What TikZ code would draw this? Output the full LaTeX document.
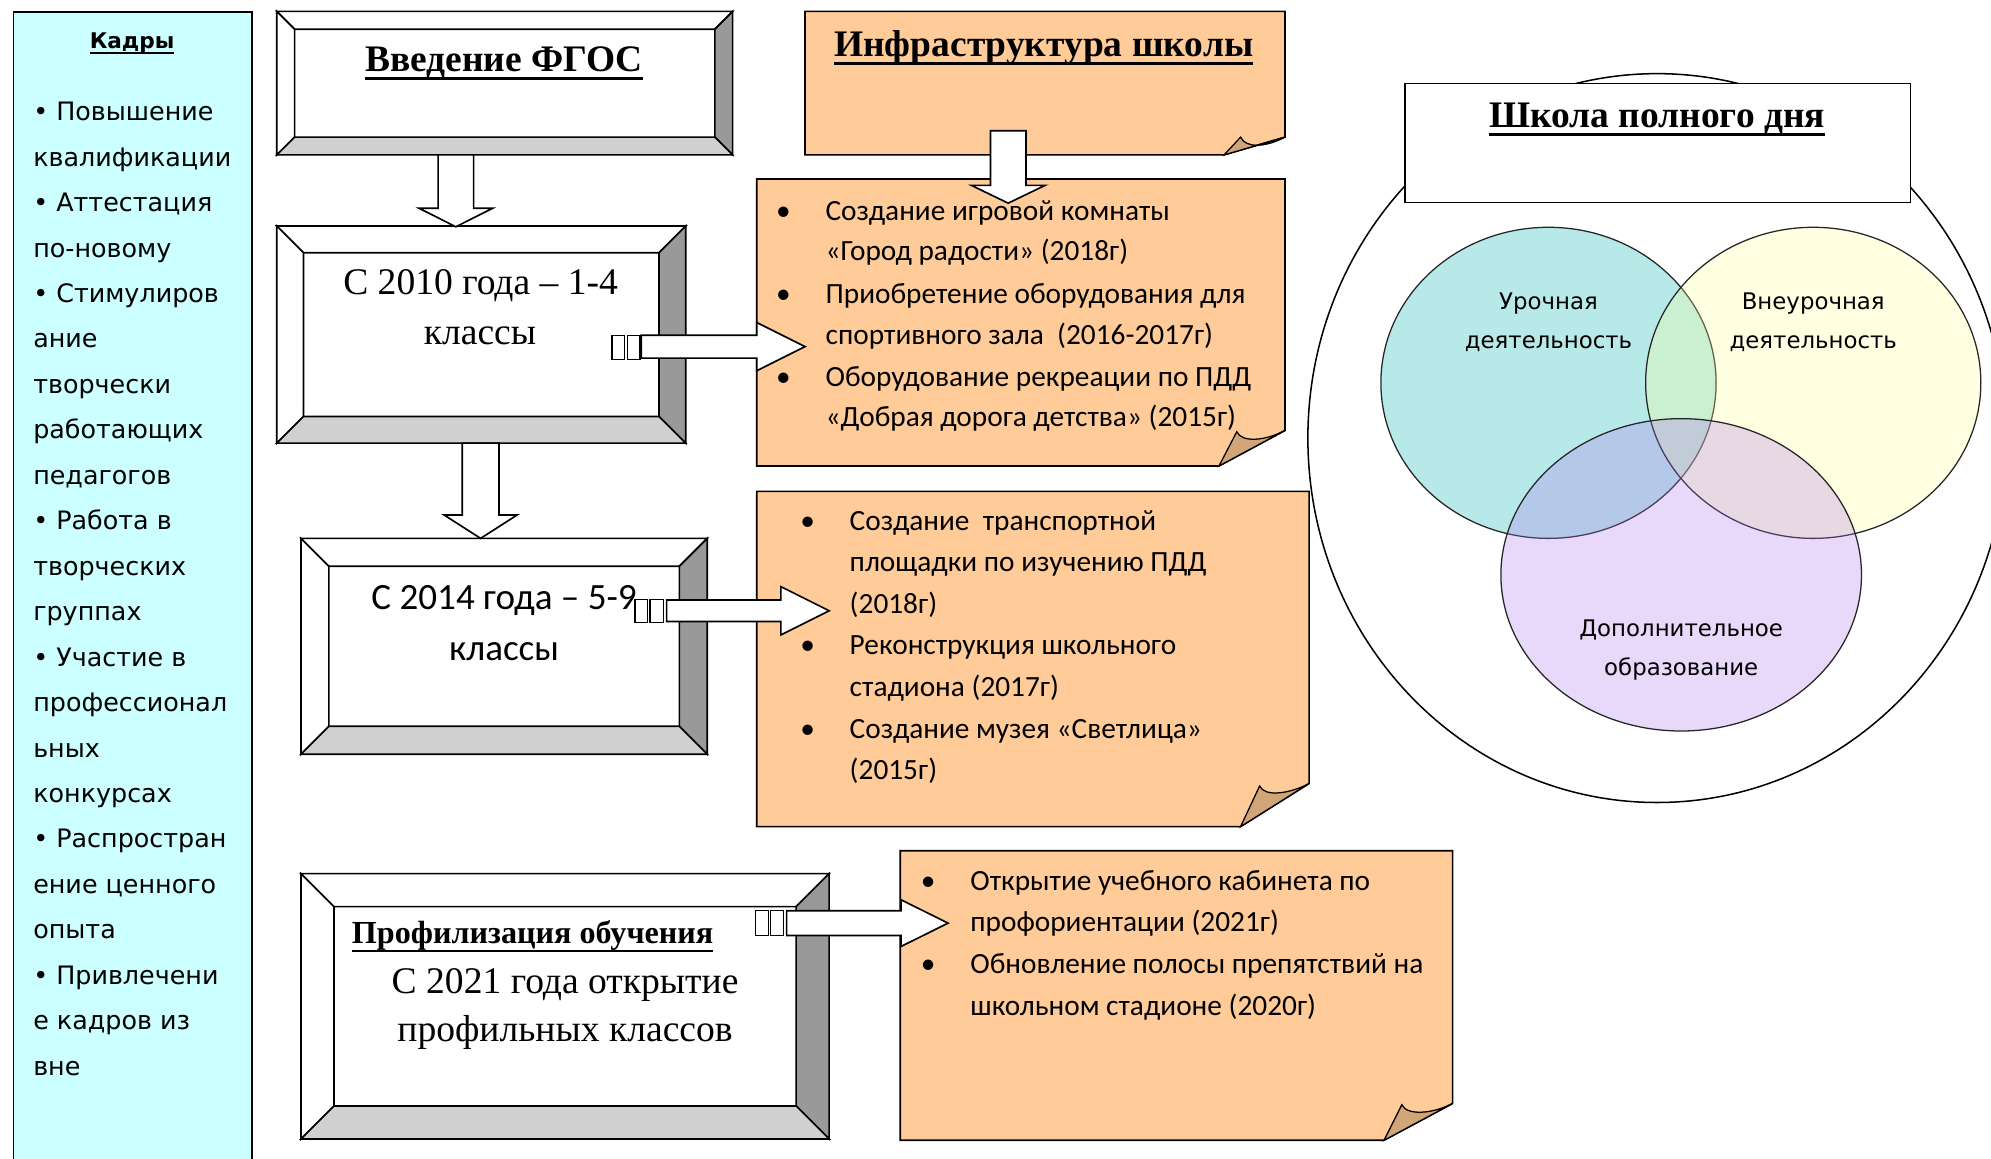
\documentclass[tikz,border=0pt]{standalone}
\usepackage{fontspec}
\setmainfont{Liberation Serif}
\newfontfamily\calfont{Carlito}
\newfontfamily\verfont{DejaVu Sans}
\usetikzlibrary{calc}
\definecolor{kadrycol}{RGB}{204,255,255}
\definecolor{notecol}{RGB}{255,204,153}
\definecolor{flapcol}{RGB}{210,165,120}
\definecolor{bevdark}{RGB}{153,153,153}
\definecolor{bevlight}{RGB}{208,208,208}
\definecolor{venna}{RGB}{0,178,178}
\definecolor{vennb}{RGB}{255,255,148}
\definecolor{vennc}{RGB}{173,116,237}
% underline: #1 depth of rule bottom, #2 thickness, #3 text
\newcommand\ulx[3]{\leavevmode\setbox0\hbox{#3}\rlap{\rule[-#1]{\wd0}{#2}}\box0}
% bevelled frame box: name, x1, y1, x2, y2, bevel
\newcommand\bevbox[6]{%
 \node[inner sep=0pt, outer sep=0pt, minimum width={#4-#2}, minimum height={#5-#3}, anchor=north west] (#1) at (#2,#3) {};
 \coordinate (#1-a) at ($(#1.north west)+(#6,#6)$);
 \coordinate (#1-b) at ($(#1.north east)+(-#6,#6)$);
 \coordinate (#1-c) at ($(#1.south east)+(-#6,-#6)$);
 \coordinate (#1-d) at ($(#1.south west)+(#6,-#6)$);
 \draw[frame, fill=white] (#1.north west) -- (#1.north east) -- (#1-b) -- (#1-a) -- cycle;
 \draw[frame, fill=white] (#1.north west) -- (#1-a) -- (#1-d) -- (#1.south west) -- cycle;
 \draw[frame, fill=bevdark] (#1.north east) -- (#1.south east) -- (#1-c) -- (#1-b) -- cycle;
 \draw[frame, fill=bevlight] (#1.south west) -- (#1-d) -- (#1-c) -- (#1.south east) -- cycle;
}
% note box with folded corner: name, x1, y1, x2, y2, fold x on bottom, fold y on right, flap vertex x, y
\newcommand\notebox[9]{%
 \coordinate (#1) at ({(#2+#4)/2},{(#3+#5)/2});
 \draw[frame, fill=notecol] (#2,#3) -- (#4,#3) -- (#4,#7) -- (#6,#5) -- (#2,#5) -- cycle;
 \draw[frame, line width=1pt, fill=flapcol] (#6,#5) -- (#8,#9) .. controls +(4,9) and +(-15,8) .. (#4,#7) -- cycle;
}
% right block arrow: x0, head base x, tip x, centre y, shaft half, head half
\newcommand\rarrow[6]{%
 \draw[frame, fill=white] (#1,#4-#5) -- (#2,#4-#5) -- (#2,#4-#6) -- (#3,#4) -- (#2,#4+#6) -- (#2,#4+#5) -- (#1,#4+#5) -- cycle;}
% down block arrow: centre x, y0, head base y, tip y, shaft half, head half
\newcommand\darrow[6]{%
 \draw[frame, fill=white] (#1-#5,#2) -- (#1-#5,#3) -- (#1-#6,#3) -- (#1,#4) -- (#1+#6,#3) -- (#1+#5,#3) -- (#1+#5,#2) -- cycle;}
\tikzset{
 frame/.style={draw=black, line width=1.3pt, line join=miter},
 glyphbox/.style={draw=black, line width=1pt, fill=white},
 ktext/.style={font=\verfont\fontsize{20}{24}\selectfont, anchor=base west, inner sep=0pt},
 btext/.style={font=\calfont\fontsize{23.1}{27}\selectfont, anchor=base west, inner sep=0pt},
 bdot/.style={font=\calfont\fontsize{23.1}{27}\selectfont, anchor=base, inner sep=0pt},
 vtext/.style={font=\verfont\fontsize{18}{22}\selectfont, anchor=base, inner sep=0pt},
 title/.style={font=\bfseries\fontsize{29.5}{34}\selectfont, anchor=base, inner sep=0pt},
 serifbig/.style={font=\fontsize{29.6}{34}\selectfont, anchor=base, inner sep=0pt},
 calbig/.style={font=\calfont\fontsize{29.2}{34}\selectfont, anchor=base, inner sep=0pt},
 venn/.style={draw=black!85, line width=1pt, fill opacity=0.28},
}
\begin{document}
\begin{tikzpicture}[x=1pt,y=-1pt]
\useasboundingbox (0,0) rectangle (1568,912);
\clip (0,0) rectangle (1568,912);
\fill[white] (0,0) rectangle (1568,912);

% ---- Kadry panel
\node[draw=black, line width=1.3pt, fill=kadrycol, inner sep=0pt, minimum width=188, minimum height=930, anchor=north west] (kadry) at (10,9) {};
\node[font=\verfont\bfseries\fontsize{17}{20}\selectfont, anchor=base, inner sep=0pt] (kadryt) at (104,38) {\ulx{4.8pt}{1.6pt}{Кадры}};
\foreach \kt [count=\ki from 0] in {• Повышение, квалификации, • Аттестация, по-новому, • Стимулиров, ание, творчески, работающих, педагогов, • Работа в, творческих, группах, • Участие в, профессионал, ьных, конкурсах, • Распростран, ение ценного, опыта, • Привлечени, е кадров из, вне}
  \node[ktext] (k\ki) at (26,{95+35.8*\ki}) {\kt};

% ---- bevelled boxes
\bevbox{fgos}{218}{9}{577}{122}{14}
\bevbox{b14}{218}{178}{540}{349}{21}
\bevbox{b59}{237}{424}{557}{594}{22}
\bevbox{prof}{237}{688}{653}{897}{26}

% ---- note boxes
\notebox{infra}{634}{9}{1012}{122}{964}{108}{977}{108}
\notebox{n1}{596}{141}{1012}{367}{960}{339}{974}{340}
\notebox{n2}{596}{387}{1031}{651}{977}{617}{992}{619}
\notebox{n3}{709}{670}{1144}{898}{1090}{869}{1104}{870}

% ---- school of full day
\draw[line width=1.2pt] (1305,345) ellipse [x radius=275, y radius=287];
\filldraw[venn, fill=venna] (1219.5,301.5) ellipse [x radius=132, y radius=122.5];
\filldraw[venn, fill=vennb] (1428,301.5) ellipse [x radius=132, y radius=122.5];
\filldraw[venn, fill=vennc] (1324,452.7) ellipse [x radius=142, y radius=123];
\node[draw=black, line width=1.2pt, fill=white, inner sep=0pt, minimum width=398, minimum height=94, anchor=north west] (shkola) at (1106,65) {};

% ---- block arrows
\darrow{359}{122}{164}{178.6}{14}{29}
\darrow{378.5}{349}{405.6}{424}{14.5}{28.7}
\darrow{794}{103}{146}{160}{14}{29}
\rarrow{505}{596}{634}{273}{9}{19}
\rarrow{525}{615}{653}{481}{8.5}{19}
\rarrow{619.5}{709.6}{746.6}{727}{9.7}{18.4}
\draw[glyphbox] (482,264) rectangle (492,283);
\draw[glyphbox] (494,264) rectangle (504,283);
\draw[glyphbox] (500,472) rectangle (510,490);
\draw[glyphbox] (512,472) rectangle (522.5,490);
\draw[glyphbox] (595,717) rectangle (605,737);
\draw[glyphbox] (607,717) rectangle (617,737);

% ---- titles and texts
\node[title] (fgost) at (397,56.4) {\ulx{6.3pt}{2pt}{Введение ФГОС}};
\node[title] (infrat) at (822,44.6) {\ulx{6.3pt}{2pt}{Инфраструктура школы}};
\node[title] (shkolat) at (1305,100.7) {\ulx{6.3pt}{2pt}{Школа полного дня}};
\node[font=\bfseries\fontsize{25.3}{29}\selectfont, anchor=base west, inner sep=0pt] (proft) at (277,743.4) {\ulx{6.5pt}{2pt}{Профилизация обучения}};

\node[serifbig] (t14a) at (378.5,232.3) {С 2010 года – 1-4};
\node[serifbig] (t14b) at (378,271.7) {классы};
\node[calbig] (t59a) at (397,480) {С 2014 года – 5-9};
\node[calbig] (t59b) at (397,520) {классы};
\node[serifbig] (tpa) at (445,782.3) {С 2021 года открытие};
\node[serifbig] (tpb) at (445,820.4) {профильных классов};

\begin{scope}
\clip (596,141) rectangle (1012,339);
\node[bdot] (n1d1) at (617,174) {•};
\node[btext] (n1t1) at (650,174) {Создание игровой комнаты};
\node[btext] (n1t2) at (650,205) {«Город радости» (2018г)};
\node[bdot] (n1d2) at (617,239) {•};
\node[btext] (n1t3) at (650,239) {Приобретение оборудования для};
\node[btext] (n1t4) at (650,271) {спортивного зала \ (2016-2017г)};
\node[bdot] (n1d3) at (617,304) {•};
\node[btext] (n1t5) at (650,304) {Оборудование рекреации по ПДД};
\node[btext] (n1t6) at (650,335.5) {«Добрая дорога детства» (2015г)};
\end{scope}

\node[bdot] (n2d1) at (636,417.4) {•};
\node[btext] (n2t1) at (669,417.4) {Создание \ транспортной};
\node[btext] (n2t2) at (669,450.2) {площадки по изучению ПДД};
\node[btext] (n2t3) at (669,483) {(2018г)};
\node[bdot] (n2d2) at (636,515.8) {•};
\node[btext] (n2t4) at (669,515.8) {Реконструкция школьного};
\node[btext] (n2t5) at (669,548.6) {стадиона (2017г)};
\node[bdot] (n2d3) at (636,581.4) {•};
\node[btext] (n2t6) at (669,581.4) {Создание музея «Светлица»};
\node[btext] (n2t7) at (669,614.2) {(2015г)};

\node[bdot] (n3d1) at (731,701) {•};
\node[btext] (n3t1) at (764,701) {Открытие учебного кабинета по};
\node[btext] (n3t2) at (764,733.8) {профориентации (2021г)};
\node[bdot] (n3d2) at (731,766.6) {•};
\node[btext] (n3t3) at (764,766.6) {Обновление полосы препятствий на};
\node[btext] (n3t4) at (764,799.4) {школьном стадионе (2020г)};

\node[vtext] (v1a) at (1219.5,243.8) {Урочная};
\node[vtext] (v1b) at (1219.5,274.4) {деятельность};
\node[vtext] (v2a) at (1428,243.8) {Внеурочная};
\node[vtext] (v2b) at (1428,274.4) {деятельность};
\node[vtext] (v3a) at (1324,501.5) {Дополнительное};
\node[vtext] (v3b) at (1324,532) {образование};
\end{tikzpicture}
\end{document}
